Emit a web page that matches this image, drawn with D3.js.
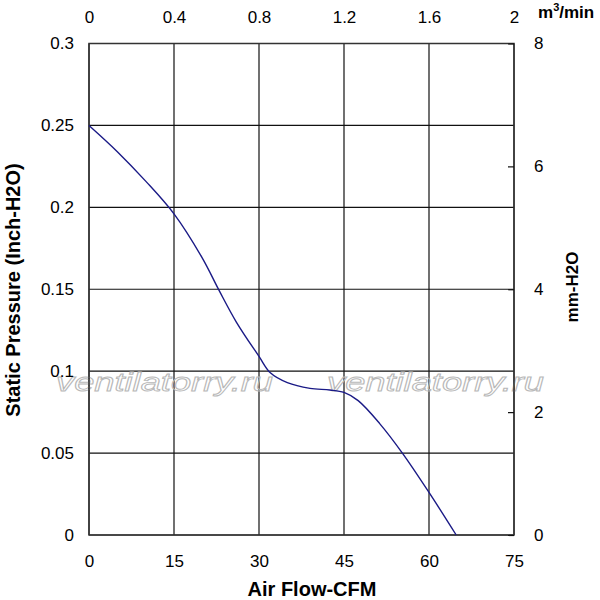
<!DOCTYPE html>
<html>
<head>
<meta charset="UTF-8">
<title>Fan P-Q curve</title>
<script src="https://cdn.jsdelivr.net/npm/d3@7/dist/d3.min.js"></script>
<style>
  body { margin: 0; background: #fff; }
  text { font-family: "Liberation Sans", Arial, sans-serif; }
</style>
</head>
<body>
<svg width="600" height="600"></svg>
<script>
// curve: air flow (CFM) vs static pressure (inch H2O)
var flowCFM  = [0, 5, 10, 15, 20, 23, 26, 30, 32, 35, 39, 42.5, 45, 47.5, 51.3, 55.3, 60, 64.8];
var pressure = [0.25, 0.234, 0.216, 0.196, 0.169, 0.149, 0.130, 0.109, 0.099, 0.093, 0.0895, 0.0885, 0.087, 0.082, 0.068, 0.05, 0.026, 0];

var cfmTicks   = [0, 15, 30, 45, 60, 75];
var m3Ticks    = [0, 0.4, 0.8, 1.2, 1.6, 2];
var inchTicks  = [0, 0.05, 0.1, 0.15, 0.2, 0.25, 0.3];
var mmTicks    = [0, 2, 4, 6, 8];
var watermark  = "ventilatorry.ru";

var marge = {top: 43.5, left: 89, right: 86, bottom: 65};
var svg = d3.select('svg');
var W = +svg.attr('width') - marge.left - marge.right;
var H = +svg.attr('height') - marge.top - marge.bottom;
var g = svg.append('g').attr('transform', 'translate(' + marge.left + ',' + marge.top + ')');

var x  = d3.scaleLinear().domain([0, 75]).range([0, W]);
var x2 = d3.scaleLinear().domain([0, 2]).range([0, W]);
var y  = d3.scaleLinear().domain([0, 0.3]).range([H, 0]);
var y2 = d3.scaleLinear().domain([0, 8]).range([H, 0]);

// grid
g.append('g').selectAll('line').data(cfmTicks).enter().append('line')
  .attr('x1', function(d) { return x(d); }).attr('x2', function(d) { return x(d); })
  .attr('y1', 0).attr('y2', H)
  .attr('stroke', '#111').attr('stroke-width', 1.2);
g.append('g').selectAll('line').data(inchTicks).enter().append('line')
  .attr('y1', function(d) { return y(d); }).attr('y2', function(d) { return y(d); })
  .attr('x1', 0).attr('x2', W)
  .attr('stroke', '#111').attr('stroke-width', 1.2);

// watermark
var wm = g.append('g').attr('fill', 'none').attr('stroke', '#b8b8b8').attr('stroke-width', 0.9);
[56, 327].forEach(function(px) {
  wm.append('text')
    .attr('x', px - marge.left).attr('y', 390.5 - marge.top)
    .attr('font-size', 26).attr('font-style', 'italic')
    .attr('textLength', 217).attr('lengthAdjust', 'spacingAndGlyphs')
    .text(watermark);
});

// frame
g.append('rect').attr('width', W).attr('height', H)
  .attr('fill', 'none').attr('stroke', '#333').attr('stroke-width', 1.5);

// curve
var line = d3.line()
  .x(function(d) { return x(d[0]); })
  .y(function(d) { return y(d[1]); })
  .curve(d3.curveCatmullRom.alpha(0.5));
g.append('path')
  .datum(d3.zip(flowCFM, pressure))
  .attr('d', line)
  .attr('fill', 'none').attr('stroke', '#1a1a86').attr('stroke-width', 1.4);

// axes
function plain(sel) {
  sel.select('.domain').remove();
  sel.selectAll('text').attr('font-size', 17).attr('fill', '#000')
    .attr('font-family', '"Liberation Sans", Arial, sans-serif');
}
g.append('g').attr('transform', 'translate(0,' + H + ')')
  .call(d3.axisBottom(x).tickValues(cfmTicks).tickSize(0).tickPadding(20))
  .call(plain);
g.append('g')
  .call(d3.axisTop(x2).tickValues(m3Ticks).tickSize(0).tickPadding(21).tickFormat(d3.format('')))
  .call(plain);
g.append('g')
  .call(d3.axisLeft(y).tickValues(inchTicks).tickSize(0).tickPadding(15).tickFormat(d3.format('')))
  .call(plain);
var ra = g.append('g').attr('transform', 'translate(' + W + ',0)')
  .call(d3.axisRight(y2).tickValues(mmTicks).tickSize(-6).tickPadding(20))
  .call(plain);
ra.selectAll('line').attr('stroke', '#111').attr('stroke-width', 1.2);

// titles
svg.append('text').attr('x', 312).attr('y', 596)
  .attr('text-anchor', 'middle').attr('font-size', 20).attr('font-weight', 'bold')
  .text('Air Flow-CFM');
svg.append('text').attr('transform', 'translate(20,290) rotate(-90)')
  .attr('text-anchor', 'middle').attr('font-size', 20).attr('font-weight', 'bold')
  .text('Static Pressure (Inch-H2O)');
svg.append('text').attr('transform', 'translate(578,287) rotate(-90)')
  .attr('text-anchor', 'middle').attr('font-size', 17).attr('font-weight', 'bold')
  .text('mm-H2O');
var unit = svg.append('text').attr('x', 538).attr('y', 18)
  .attr('font-size', 17).attr('font-weight', 'bold');
unit.append('tspan').text('m');
unit.append('tspan').attr('font-size', 11).attr('dy', -7).text('3');
unit.append('tspan').attr('dy', 7).text('/min');
</script>
</body>
</html>
